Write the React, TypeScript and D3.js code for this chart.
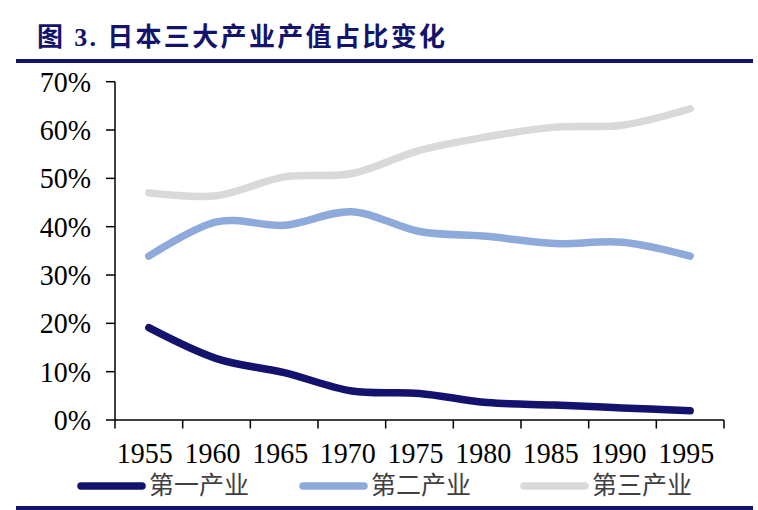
import React from 'react'
import * as d3 from 'd3'

// values, in %
const years = ['1955', '1960', '1965', '1970', '1975', '1980', '1985', '1990', '1995']
const primary = [19.1, 12.7, 9.8, 6.0, 5.5, 3.6, 3.1, 2.5, 1.9]
const secondary = [33.9, 41.0, 40.3, 43.1, 39.0, 38.0, 36.5, 36.8, 33.9]
const tertiary = [47.0, 46.4, 50.3, 51.0, 55.8, 58.6, 60.6, 61.0, 64.4]
const yTicks = [0, 10, 20, 30, 40, 50, 60, 70]
const seriesNames = ['第一产业', '第二产业', '第三产业']

const W = 758
const H = 510
const navy = '#13136e'
const colors = [navy, '#8eaadb', '#d9d9d9']
const serif = '"Liberation Serif", "Times New Roman", "Noto Sans CJK SC", serif'

export default function App() {
  const x = d3.scaleBand<string>().domain(years).range([115, 724]).padding(0)
  const y = d3.scaleLinear().domain([0, 70]).range([420, 81.7])

  const line = d3
    .line<number>()
    .x((_, i) => (x(years[i]) as number) + x.bandwidth() / 2)
    .y((d) => y(d))
    .curve(d3.curveCardinal.tension(0))

  const series = [primary, secondary, tertiary]
  // tick marks sit on the band edges, labels in between
  const edges = years.map((d) => x(d) as number).concat([x.range()[1]])

  const legendX = [78, 300, 521]

  return (
    <svg width={W} height={H} style={{ position: 'absolute', left: 0, top: 0, background: '#fff' }}>
      <text x={37} y={46} fill={navy} fontWeight="bold" fontSize={26} fontFamily={serif}
        textLength={408} lengthAdjust="spacing">
        图 3. 日本三大产业产值占比变化
      </text>
      <rect x={16} y={59} width={737} height={4} fill={navy} />

      {/* y axis */}
      <line x1={115} x2={115} y1={y(70)} y2={y(0)} stroke="#000" strokeWidth={1.5} />
      {yTicks.map((t) => (
        <g key={t}>
          <line x1={106} x2={115} y1={y(t)} y2={y(t)} stroke="#000" strokeWidth={1.5} />
          <text transform={`translate(91,${y(t) + 10}) scale(1,1.08)`} textAnchor="end"
            fontSize={28} fontFamily={serif}>
            {t}%
          </text>
        </g>
      ))}

      {/* x axis */}
      <line x1={115} x2={724} y1={y(0)} y2={y(0)} stroke="#000" strokeWidth={1.5} />
      {edges.map((e, i) => (
        <line key={i} x1={e} x2={e} y1={y(0)} y2={y(0) + 8.5} stroke="#000" strokeWidth={1.5} />
      ))}
      {years.map((yr) => (
        <text key={yr}
          transform={`translate(${(x(yr) as number) + x.bandwidth() / 2 - 4},463) scale(1,1.08)`}
          textAnchor="middle" fontSize={28} fontFamily={serif}>
          {yr}
        </text>
      ))}

      {/* lines, lightest first */}
      {[2, 1, 0].map((k) => (
        <path key={k} d={line(series[k]) || ''} fill="none" stroke={colors[k]} strokeWidth={7.5}
          strokeLinecap="round" strokeLinejoin="round" />
      ))}

      {/* legend */}
      {seriesNames.map((n, k) => (
        <g key={n}>
          <line x1={legendX[k] + 3} x2={legendX[k] + 64} y1={486} y2={486} stroke={colors[k]}
            strokeWidth={7.5} strokeLinecap="round" />
          <text x={legendX[k] + 71} y={494} fontSize={25} fill="#404040" fontFamily={serif}>
            {n}
          </text>
        </g>
      ))}

      <rect x={16} y={506} width={737} height={4} fill={navy} />
    </svg>
  )
}
